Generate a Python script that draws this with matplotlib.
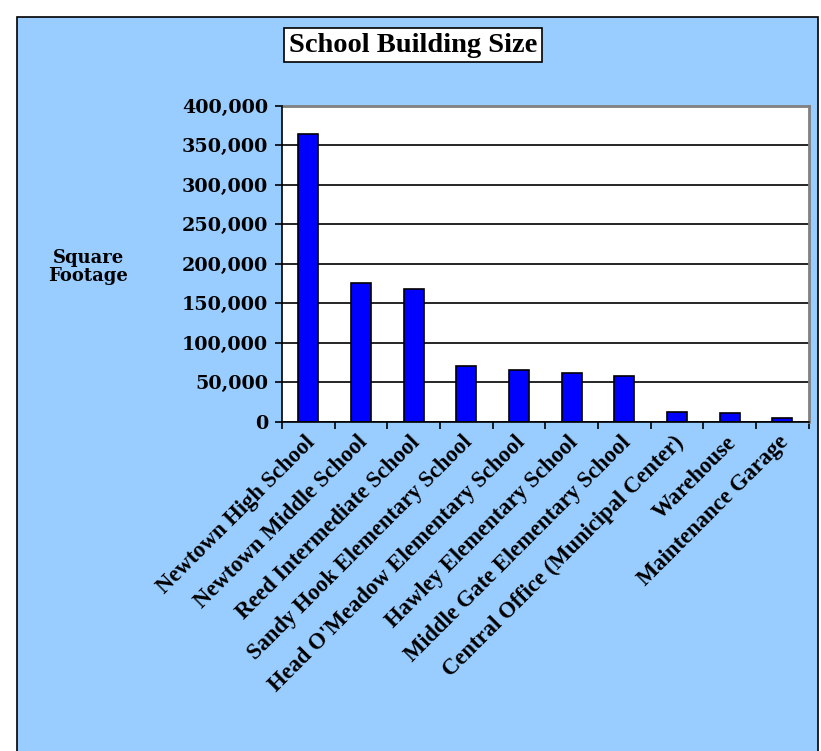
import matplotlib.pyplot as plt
from matplotlib.patches import Rectangle
from matplotlib.ticker import FuncFormatter, MultipleLocator

# Data
schools = [
    "Newtown High School",
    "Newtown Middle School",
    "Reed Intermediate School",
    "Sandy Hook Elementary School",
    "Head O'Meadow Elementary School",
    "Hawley Elementary School",
    "Middle Gate Elementary School",
    "Central Office (Municipal Center)",
    "Warehouse",
    "Maintenance Garage",
]
square_feet = [364000, 175000, 168000, 70000, 66000, 62000, 58000, 12700, 10600, 4700]

W, H = 821, 751
fig = plt.figure(figsize=(W / 100, H / 100), dpi=100, facecolor="white")

# light blue chart panel with black border
panel = Rectangle((17 / W, -0.01), (818 - 17) / W, 1.01 - 17 / H, transform=fig.transFigure,
                  facecolor="#99CCFF", edgecolor="black", linewidth=1.2, zorder=-5)
fig.patches.append(panel)

ax = fig.add_axes([282 / W, 1 - 421.7 / H, (808.5 - 282) / W, (421.7 - 105.7) / H])
ax.set_facecolor("white")

x = range(len(schools))
ax.bar(x, square_feet, width=0.38, color="#0000FF", edgecolor="black", linewidth=1.2, zorder=3)

ax.set_xlim(-0.5, len(schools) - 0.5)
ax.set_ylim(0, 400000)
ax.yaxis.set_major_locator(MultipleLocator(50000))
ax.yaxis.set_major_formatter(FuncFormatter(lambda v, p: f"{int(v):,}"))
ax.grid(axis="y", color="black", linewidth=1.2, zorder=1)
ax.set_axisbelow(True)

for s in ["top", "right"]:
    ax.spines[s].set_color("#808080")
    ax.spines[s].set_linewidth(2)
for s in ["left", "bottom"]:
    ax.spines[s].set_color("black")
    ax.spines[s].set_linewidth(1.2)
    ax.spines[s].set_zorder(4)

# ticks between categories on x
ax.set_xticks([i + 0.5 for i in range(-1, len(schools))])
ax.set_xticklabels([])
ax.tick_params(axis="x", direction="out", length=5, width=1.2)
ax.tick_params(axis="y", direction="out", length=5, width=1.2, pad=5)
for lab in ax.get_yticklabels():
    lab.set_fontfamily("DejaVu Serif")
    lab.set_fontweight("bold")
    lab.set_fontsize(13.8)

# rotated category labels
for i, name in enumerate(schools):
    ax.text(i - 0.08, -13000, name, rotation=45, rotation_mode="anchor",
            ha="right", va="top", fontsize=16.3, fontweight="bold",
            family="Liberation Serif", clip_on=False)

fig.text(88 / W, 1 - 267 / H, "Square\nFootage", ha="center", va="center",
         fontsize=13, fontweight="bold", family="DejaVu Serif", linespacing=1.0)

fig.text(413 / W, 1 - 45 / H, "School Building Size", ha="center", va="center",
         fontsize=20.5, fontweight="bold", family="Liberation Serif",
         bbox=dict(boxstyle="square,pad=0.17", facecolor="white", edgecolor="black", linewidth=1.2))

fig.savefig("out.png", dpi=100, facecolor="white")
